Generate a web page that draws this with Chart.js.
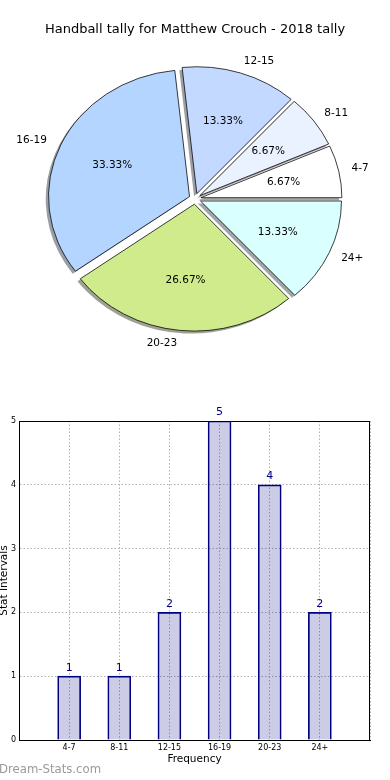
<!DOCTYPE html>
<html>
<head>
<meta charset="utf-8">
<script src="https://cdn.jsdelivr.net/npm/chart.js@4.4.0/dist/chart.umd.min.js"></script>
<style>
  body { margin: 0; background: #fff; width: 390px; height: 780px; position: relative; overflow: hidden; }
  #pie { position: absolute; left: 0; top: 0; }
  #bar { position: absolute; left: 0; top: 390px; }
  .wm { position: absolute; left: -1px; top: 762px; font: 11.7px 'DejaVu Sans', sans-serif; color: #9a9a9a; }
</style>
</head>
<body>
<canvas id="pie" width="390" height="390"></canvas>
<canvas id="bar" width="390" height="390"></canvas>
<div class="wm">Dream-Stats.com</div>
<script>
const categories = ['4-7', '8-11', '12-15', '16-19', '20-23', '24+'];
const counts = [1, 1, 2, 5, 4, 2];
const sliceColors = ['#ffffff', '#eaf2ff', '#c4d9ff', '#b4d5ff', '#cfeb8b', '#d9ffff'];

Chart.defaults.font.family = "'DejaVu Sans', sans-serif";
Chart.defaults.color = '#000';

const total = counts.reduce((a, b) => a + b, 0);

// matplotlib-ish look: slices run counter-clockwise from 3 o'clock, squashed a bit vertically
const EXPLODE = 6;
const SQUASH = 0.9;
const SHADOW = [-2.8, 2.8];

function shadowOf(hex) {
  const n = parseInt(hex.slice(1), 16);
  const r = ((n >> 16) & 255) * 0.3, g = ((n >> 8) & 255) * 0.3, b = (n & 255) * 0.3;
  return `rgba(${r | 0}, ${g | 0}, ${b | 0}, 0.5)`;
}

const explodedPie = {
  id: 'explodedPie',
  beforeDatasetDraw(chart, args) {
    const ctx = chart.ctx;
    const arcs = args.meta.data;
    const cx = arcs[0].x, cy = arcs[0].y;
    ctx.save();
    ctx.translate(cx, cy);
    ctx.scale(1, SQUASH);
    ctx.translate(-cx, -cy);

    // shadows first, behind every wedge
    arcs.forEach(arc => {
      const mid = (arc.startAngle + arc.endAngle) / 2;
      ctx.save();
      ctx.translate(Math.cos(mid) * EXPLODE + SHADOW[0], Math.sin(mid) * EXPLODE + SHADOW[1]);
      ctx.beginPath();
      ctx.moveTo(arc.x, arc.y);
      ctx.arc(arc.x, arc.y, arc.outerRadius, arc.startAngle, arc.endAngle);
      ctx.closePath();
      ctx.fillStyle = shadowOf(arc.options.backgroundColor);
      ctx.fill();
      ctx.restore();
    });

    arcs.forEach(arc => {
      const mid = (arc.startAngle + arc.endAngle) / 2;
      ctx.save();
      ctx.translate(Math.cos(mid) * EXPLODE, Math.sin(mid) * EXPLODE);
      arc.draw(ctx);
      ctx.restore();
    });
    ctx.restore();
    return false;
  },
  afterDatasetsDraw(chart) {
    const ctx = chart.ctx;
    const arcs = chart.getDatasetMeta(0).data;
    const values = chart.data.datasets[0].data;
    ctx.save();
    ctx.font = "10.5px 'DejaVu Sans'";
    ctx.fillStyle = '#000';
    ctx.textBaseline = 'middle';
    arcs.forEach((arc, i) => {
      const mid = (arc.startAngle + arc.endAngle) / 2;
      const c = Math.cos(mid), s = Math.sin(mid);
      const R = arc.outerRadius;
      const ex = arc.x + c * EXPLODE, ey = arc.y + s * EXPLODE * SQUASH;
      ctx.textAlign = c > 0 ? 'left' : 'right';
      ctx.fillText(chart.data.labels[i], ex + c * R * 1.1 - 1, ey + s * R * 1.1 * SQUASH);
      ctx.textAlign = 'center';
      const pct = (values[i] / total * 100).toFixed(2) + '%';
      ctx.fillText(pct, ex + c * R * 0.6, ey + s * R * 0.6 * SQUASH);
    });
    ctx.restore();
  }
};

// Chart.js goes clockwise, so feed the slices in reverse to get matplotlib's order
new Chart(document.getElementById('pie'), {
  type: 'pie',
  data: {
    labels: categories.slice().reverse(),
    datasets: [{
      data: counts.slice().reverse(),
      backgroundColor: sliceColors.slice().reverse(),
      borderColor: '#000',
      borderWidth: 0.8,
      borderJoinStyle: 'miter',
      hoverOffset: 0
    }]
  },
  options: {
    responsive: false,
    animation: false,
    rotation: 90,
    radius: 141,
    layout: { padding: { left: 0, right: 0, top: 0, bottom: 30 } },
    plugins: {
      legend: { display: false },
      tooltip: { enabled: false },
      title: {
        display: true,
        text: 'Handball tally for Matthew Crouch - 2018 tally',
        color: '#000',
        font: { size: 13, weight: 'normal' },
        padding: { top: 22, bottom: 0 }
      }
    }
  },
  plugins: [explodedPie]
});

const barLabels = {
  id: 'barLabels',
  afterDatasetsDraw(chart) {
    const ctx = chart.ctx;
    ctx.save();
    ctx.font = "11px 'DejaVu Sans'";
    ctx.fillStyle = '#000080';
    ctx.textAlign = 'center';
    ctx.textBaseline = 'bottom';
    chart.getDatasetMeta(0).data.forEach((bar, i) => {
      ctx.fillText(String(counts[i]), bar.x, bar.y - 3);
    });
    ctx.restore();
  },
  afterDraw(chart) {
    const { ctx, chartArea: a } = chart;
    ctx.save();
    ctx.strokeStyle = '#000';
    ctx.lineWidth = 1;
    ctx.strokeRect(Math.round(a.left) + 0.5, Math.round(a.top) + 0.5,
      Math.round(a.right - a.left) - 1, Math.round(a.bottom - a.top));
    ctx.restore();
  }
};

new Chart(document.getElementById('bar'), {
  type: 'bar',
  data: {
    datasets: [{
      data: categories.map((c, i) => ({ x: i + 1, y: counts[i] })),
      backgroundColor: 'rgba(0, 0, 128, 0.2)',
      borderColor: '#000080',
      borderWidth: 1,
      barThickness: 23
    }]
  },
  options: {
    responsive: false,
    animation: false,
    layout: { padding: { top: 31, right: 20, left: 0, bottom: 0 } },
    plugins: { legend: { display: false }, tooltip: { enabled: false } },
    scales: {
      x: {
        type: 'linear',
        min: 0,
        max: 7,
        offset: false,
        z: 1,
        afterFit: s => { s.height = 40; },
        grid: { color: '#b0b0b0', drawTicks: false, offset: false },
        border: { color: '#000', dash: [1.5, 2] },
        ticks: {
          stepSize: 1,
          padding: 3,
          font: { size: 8 },
          callback: v => categories[v - 1] || ''
        },
        title: { display: true, text: 'Frequency', font: { size: 10.5 }, padding: { top: 0, bottom: 14 } }
      },
      y: {
        min: 0,
        max: 5,
        z: 1,
        afterFit: s => { s.width = 19; },
        grid: { color: '#b0b0b0', drawTicks: false },
        border: { color: '#000', dash: [1.5, 2] },
        ticks: { stepSize: 1, padding: 3, font: { size: 8 } },
        title: { display: true, text: 'Stat Intervals', font: { size: 10.5 }, padding: { top: -2, bottom: 0 } }
      }
    }
  },
  plugins: [barLabels]
});
</script>
</body>
</html>
